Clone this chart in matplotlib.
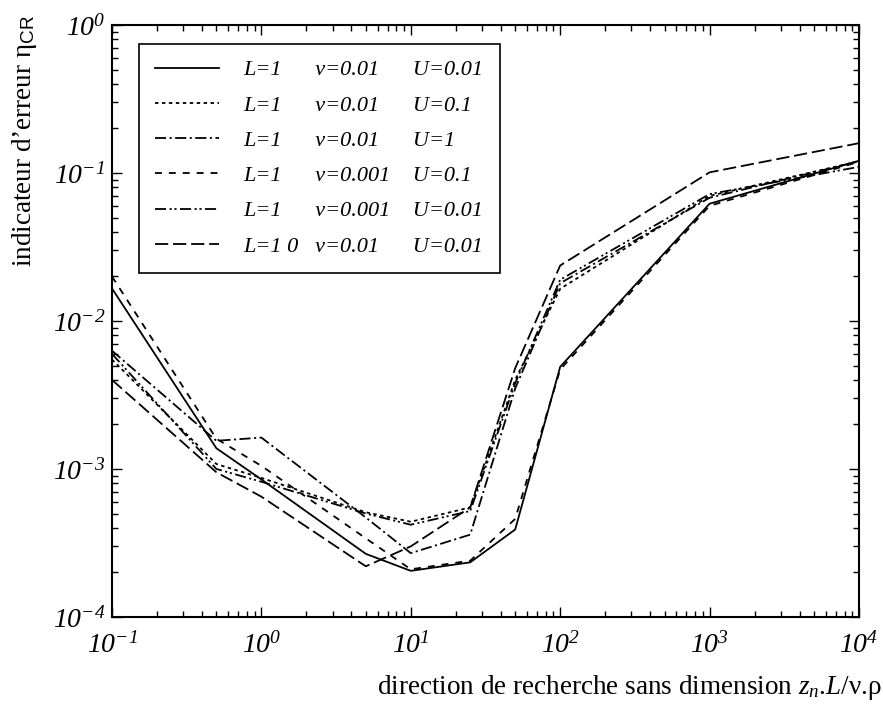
import numpy as np
import matplotlib
matplotlib.use("Agg")
import matplotlib.pyplot as plt
from matplotlib.ticker import FuncFormatter, LogLocator
from matplotlib.textpath import TextPath
from matplotlib.font_manager import FontProperties

# search direction (dimensionless) and error indicator for each case
z = [0.1, 0.5, 1, 5, 10, 25, 50, 100, 1000, 10000]
eta_L1_nu01_U01 = [1.66e-2, 1.38e-3, 8.5e-4, 2.67e-4, 2.05e-4, 2.34e-4, 3.9e-4, 4.9e-3, 6.2e-2, 1.21e-1]
eta_L1_nu01_U1e1 = [5.5e-3, 1.08e-3, 8.7e-4, 5.1e-4, 4.4e-4, 5.5e-4, 4.0e-3, 1.65e-2, 7.0e-2, 1.20e-1]
eta_L1_nu01_U1 = [6.3e-3, 1.55e-3, 1.63e-3, 4.7e-4, 2.7e-4, 3.6e-4, 3.5e-3, 1.80e-2, 6.8e-2, 1.20e-1]
eta_L1_nu001_U1e1 = [2.0e-2, 1.6e-3, 1.05e-3, 3.4e-4, 2.1e-4, 2.4e-4, 4.6e-4, 4.7e-3, 6.0e-2, 1.19e-1]
eta_L1_nu001_U01 = [6.0e-3, 1.0e-3, 8.2e-4, 5.0e-4, 4.2e-4, 5.2e-4, 3.8e-3, 1.90e-2, 7.2e-2, 1.10e-1]
eta_L10_nu01_U01 = [4.0e-3, 9.5e-4, 6.5e-4, 2.2e-4, 3.0e-4, 5.5e-4, 4.8e-3, 2.37e-2, 1.01e-1, 1.59e-1]

series = [eta_L1_nu01_U01, eta_L1_nu01_U1e1, eta_L1_nu01_U1,
          eta_L1_nu001_U1e1, eta_L1_nu001_U01, eta_L10_nu01_U01]
L_labels = ["L=1", "L=1", "L=1", "L=1", "L=1", "L=1 0"]
nu_labels = ["ν=0.01", "ν=0.01", "ν=0.01", "ν=0.001", "ν=0.001", "ν=0.01"]
U_labels = ["U=0.01", "U=0.1", "U=1", "U=0.1", "U=0.01", "U=0.01"]

dashes = [
    None,                          # solid
    (2.5, 2.5),                    # dotted
    (8, 2.5, 1.5, 2.5),            # dash-dot
    (5, 5),                        # dashed
    (8, 2.5, 1.5, 2, 1.5, 2.5),    # dash-dot-dot
    (9.5, 3.5),                    # long dash
]

plt.rcParams.update({
    "font.family": "Liberation Serif",
    "mathtext.fontset": "custom",
    "mathtext.rm": "Liberation Serif",
    "mathtext.it": "Liberation Serif:italic",
    "mathtext.bf": "Liberation Serif:italic",   # used for the italic tick numbers
    "mathtext.sf": "Liberation Sans",
    "lines.scale_dashes": False,
})

fig = plt.figure(figsize=(8.83, 7.06), dpi=100)
ax = fig.add_axes([0.1268, 0.1261, 0.846, 0.8385])


# pad labels with spaces so the three columns line up
leg_size = 16
fp = FontProperties(family="Liberation Serif", style="italic", size=leg_size)


def text_w(s):
    return TextPath((0, 0), s, prop=fp).get_extents().width


space_w = text_w("a a") - text_w("aa")
col2 = 3.25 * leg_size
col3 = 4.15 * leg_size
labels = []
for L, nu, U in zip(L_labels, nu_labels, U_labels):
    n1 = max(1, int(round((col2 - text_w(L)) / space_w)))
    n2 = max(1, int(round((col3 - text_w(nu)) / space_w)))
    labels.append(L + " " * n1 + nu + " " * n2 + U)

for y, d, lab in zip(series, dashes, labels):
    line, = ax.plot(z, y, color="black", lw=1.3, label=lab)
    if d is not None:
        line.set_dashes(d)

ax.set_xscale("log")
ax.set_yscale("log")
ax.set_xlim(0.1, 1e4)
ax.set_ylim(1e-4, 1)

fmt = FuncFormatter(lambda v, pos: r"$\mathbf{10^{%d}}$" % int(round(np.log10(v))))
ax.xaxis.set_major_formatter(fmt)
ax.yaxis.set_major_formatter(fmt)
ax.xaxis.set_minor_locator(LogLocator(base=10, subs=np.arange(2, 10)))
ax.yaxis.set_minor_locator(LogLocator(base=10, subs=np.arange(2, 10)))
ax.xaxis.set_minor_formatter(plt.NullFormatter())
ax.yaxis.set_minor_formatter(plt.NullFormatter())
ax.tick_params(which="both", direction="in", top=True, right=True, width=1)
ax.tick_params(which="major", length=7, labelsize=20)
ax.tick_params(which="minor", length=4)
ax.tick_params(axis="x", pad=11)
ax.tick_params(axis="y", pad=5)
for sp in ax.spines.values():
    sp.set_linewidth(1.5)

ax.set_xlabel(r"direction de recherche sans dimension $\mathit{z_n}$.$\mathit{L}$/ν.ρ",
              fontsize=19.5, ha="right")
ax.xaxis.set_label_coords(1.031, -0.095)
ax.set_ylabel(r"indicateur d’erreur η$_{\mathsf{CR}}$", fontsize=19.5, ha="right", va="bottom")
ax.yaxis.set_label_coords(-0.098, 1.017)

leg = ax.legend(loc="upper left", bbox_to_anchor=(0.036, 0.968), borderaxespad=0,
                prop=fp, handlelength=2.9, handletextpad=1.1, labelspacing=0.66,
                borderpad=0.72, fancybox=False, framealpha=1, edgecolor="black")
leg.get_frame().set_linewidth(1.2)

fig.savefig("out.png", dpi=100)
